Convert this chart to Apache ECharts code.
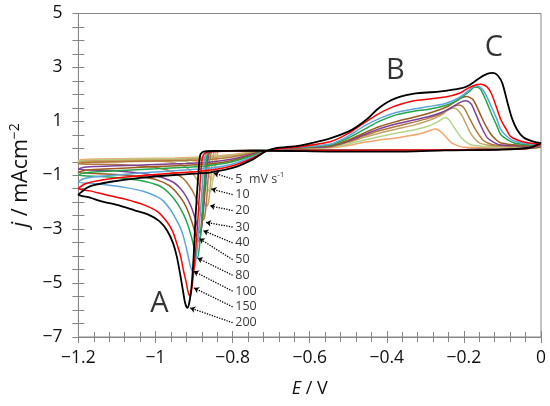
<!DOCTYPE html>
<html>
<head>
<meta charset="utf-8">
<script src="https://cdn.jsdelivr.net/npm/echarts@6/dist/echarts.min.js"></script>
<style>
html, body { margin: 0; padding: 0; background: #fff; }
#chart { width: 550px; height: 406px; }
</style>
</head>
<body>
<div id="chart"></div>
<script>
// scan rates (mV/s) and the colour used for each loop
var scanRates = ['5', '10', '20', '30', '40', '50', '80', '100', '150', '200'];
var lineColors = ['#F5A46C', '#B4D48C', '#C4A464', '#B0773A', '#7F3F98', '#9B5A1E', '#1FA64A', '#5DA5DA', '#FF0000', '#000000'];

// each loop: forward scan 0 -> -1.2 V, then reverse -1.2 -> 0 V  [E (V), j (mA/cm2)]
var cv5 = [[0,0.03],[-0.03,0],[-0.1,-0.04],[-0.3,-0.06],[-0.5,-0.07],[-0.7,-0.08],[-0.832,-0.09],[-0.838,-0.12],[-0.842,-0.4],[-0.846,-0.85],[-0.85,-1.1],[-0.855,-1.15],[-0.86,-1.05],[-0.867,-0.8],[-0.878,-0.6],[-0.895,-0.48],[-0.93,-0.42],[-1.0,-0.42],[-1.2,-0.45],
  [-1.19,-0.42],[-1.15,-0.4],[-1.05,-0.38],[-0.95,-0.36],[-0.88,-0.32],[-0.8,-0.23],[-0.75,-0.14],[-0.715,-0.08],[-0.69,-0.04],[-0.63,0],[-0.545,0.02],[-0.5,0.1],[-0.46,0.22],[-0.42,0.31],[-0.376,0.38],[-0.34,0.47],[-0.308,0.56],[-0.285,0.68],[-0.274,0.72],[-0.262,0.64],[-0.252,0.5],[-0.241,0.33],[-0.231,0.19],[-0.215,0.09],[-0.2,0.04],[-0.1,0.03],[0,0.03]];
var cv10 = [[0,0.04],[-0.03,0],[-0.1,-0.04],[-0.3,-0.06],[-0.5,-0.07],[-0.7,-0.08],[-0.836,-0.09],[-0.843,-0.13],[-0.847,-0.5],[-0.851,-1.1],[-0.855,-1.5],[-0.859,-1.62],[-0.864,-1.5],[-0.871,-1.15],[-0.882,-0.82],[-0.897,-0.62],[-0.92,-0.5],[-0.96,-0.45],[-1.05,-0.46],[-1.2,-0.48],
  [-1.19,-0.45],[-1.15,-0.43],[-1.05,-0.41],[-0.95,-0.39],[-0.88,-0.35],[-0.8,-0.25],[-0.75,-0.15],[-0.715,-0.08],[-0.69,-0.04],[-0.63,0],[-0.545,0.04],[-0.5,0.15],[-0.46,0.3],[-0.42,0.43],[-0.376,0.56],[-0.33,0.68],[-0.291,0.83],[-0.27,0.96],[-0.26,1.05],[-0.25,1.14],[-0.244,1.12],[-0.238,1.05],[-0.227,0.81],[-0.216,0.58],[-0.206,0.38],[-0.193,0.22],[-0.18,0.12],[-0.15,0.07],[-0.12,0.05],[0,0.04]];
var cv20 = [[0,0.05],[-0.03,0],[-0.1,-0.04],[-0.3,-0.06],[-0.5,-0.07],[-0.7,-0.08],[-0.84,-0.09],[-0.848,-0.14],[-0.853,-0.5],[-0.857,-1.2],[-0.861,-1.85],[-0.865,-2.12],[-0.869,-2.15],[-0.874,-1.95],[-0.882,-1.55],[-0.893,-1.15],[-0.908,-0.85],[-0.93,-0.63],[-0.96,-0.52],[-0.995,-0.48],[-1.1,-0.5],[-1.2,-0.52],
  [-1.19,-0.48],[-1.15,-0.46],[-1.05,-0.44],[-0.95,-0.42],[-0.88,-0.38],[-0.8,-0.27],[-0.75,-0.16],[-0.715,-0.08],[-0.69,-0.04],[-0.63,0],[-0.545,0.05],[-0.5,0.22],[-0.46,0.4],[-0.42,0.56],[-0.376,0.71],[-0.33,0.86],[-0.291,1.03],[-0.26,1.22],[-0.245,1.38],[-0.235,1.46],[-0.227,1.49],[-0.22,1.46],[-0.215,1.4],[-0.206,1.24],[-0.195,0.92],[-0.185,0.62],[-0.172,0.35],[-0.16,0.2],[-0.14,0.12],[-0.12,0.08],[0,0.05]];
var cv30 = [[0,0.06],[-0.03,0],[-0.1,-0.04],[-0.3,-0.06],[-0.5,-0.07],[-0.7,-0.08],[-0.845,-0.1],[-0.855,-0.15],[-0.86,-0.5],[-0.864,-1.2],[-0.868,-2.0],[-0.872,-2.5],[-0.876,-2.65],[-0.881,-2.5],[-0.888,-2.15],[-0.898,-1.75],[-0.912,-1.4],[-0.93,-1.1],[-0.955,-0.88],[-0.995,-0.72],[-1.05,-0.64],[-1.1,-0.6],[-1.2,-0.58],
  [-1.19,-0.54],[-1.16,-0.52],[-1.1,-0.5],[-1.0,-0.47],[-0.92,-0.45],[-0.86,-0.42],[-0.8,-0.32],[-0.75,-0.18],[-0.715,-0.09],[-0.69,-0.04],[-0.63,0.01],[-0.545,0.07],[-0.5,0.25],[-0.46,0.46],[-0.42,0.65],[-0.376,0.81],[-0.33,0.97],[-0.291,1.12],[-0.26,1.28],[-0.235,1.5],[-0.222,1.58],[-0.214,1.61],[-0.207,1.58],[-0.2,1.5],[-0.192,1.3],[-0.185,1.1],[-0.172,0.75],[-0.16,0.48],[-0.15,0.3],[-0.135,0.18],[-0.12,0.12],[-0.06,0.08],[0,0.06]];
var cv40 = [[0,0.07],[-0.03,0],[-0.1,-0.04],[-0.3,-0.06],[-0.5,-0.07],[-0.7,-0.08],[-0.85,-0.1],[-0.86,-0.16],[-0.865,-0.5],[-0.87,-1.3],[-0.875,-2.2],[-0.88,-2.9],[-0.884,-3.14],[-0.889,-3.0],[-0.897,-2.6],[-0.908,-2.15],[-0.92,-1.8],[-0.935,-1.5],[-0.955,-1.25],[-0.995,-1.04],[-1.04,-0.92],[-1.1,-0.84],[-1.2,-0.78],
  [-1.19,-0.72],[-1.16,-0.68],[-1.1,-0.65],[-1.0,-0.6],[-0.92,-0.56],[-0.86,-0.52],[-0.8,-0.4],[-0.75,-0.22],[-0.715,-0.1],[-0.69,-0.04],[-0.63,0.02],[-0.545,0.08],[-0.5,0.27],[-0.46,0.5],[-0.42,0.72],[-0.376,0.9],[-0.33,1.05],[-0.291,1.18],[-0.26,1.32],[-0.24,1.45],[-0.22,1.62],[-0.205,1.73],[-0.195,1.76],[-0.187,1.72],[-0.18,1.62],[-0.17,1.3],[-0.159,0.93],[-0.148,0.6],[-0.138,0.37],[-0.12,0.2],[-0.104,0.12],[-0.05,0.09],[0,0.07]];
var cv50 = [[0,0.08],[-0.03,0],[-0.1,-0.04],[-0.3,-0.06],[-0.5,-0.07],[-0.7,-0.08],[-0.85,-0.1],[-0.862,-0.17],[-0.867,-0.5],[-0.872,-1.3],[-0.877,-2.3],[-0.883,-3.2],[-0.888,-3.45],[-0.894,-3.3],[-0.903,-2.85],[-0.914,-2.4],[-0.927,-2.0],[-0.945,-1.65],[-0.965,-1.38],[-0.995,-1.18],[-1.04,-1.05],[-1.1,-0.97],[-1.2,-0.9],
  [-1.19,-0.84],[-1.16,-0.79],[-1.1,-0.75],[-1.0,-0.68],[-0.92,-0.63],[-0.86,-0.58],[-0.8,-0.45],[-0.75,-0.25],[-0.715,-0.1],[-0.69,-0.04],[-0.63,0.02],[-0.545,0.1],[-0.5,0.3],[-0.46,0.56],[-0.42,0.8],[-0.376,0.99],[-0.33,1.15],[-0.291,1.3],[-0.26,1.45],[-0.24,1.57],[-0.22,1.75],[-0.205,1.88],[-0.192,1.92],[-0.182,1.86],[-0.176,1.8],[-0.165,1.5],[-0.155,1.18],[-0.142,0.8],[-0.129,0.5],[-0.115,0.3],[-0.104,0.2],[-0.06,0.12],[0,0.08]];
var cv80 = [[0,0.1],[-0.03,0],[-0.1,-0.04],[-0.3,-0.06],[-0.5,-0.07],[-0.7,-0.08],[-0.85,-0.11],[-0.864,-0.18],[-0.869,-0.5],[-0.874,-1.4],[-0.879,-2.4],[-0.885,-3.5],[-0.891,-4.07],[-0.897,-3.85],[-0.906,-3.33],[-0.916,-2.85],[-0.927,-2.46],[-0.943,-2.05],[-0.961,-1.72],[-0.98,-1.48],[-0.995,-1.36],[-1.03,-1.22],[-1.08,-1.12],[-1.14,-1.05],[-1.2,-1.0],
  [-1.19,-0.93],[-1.16,-0.88],[-1.1,-0.83],[-1.0,-0.76],[-0.92,-0.7],[-0.87,-0.66],[-0.8,-0.5],[-0.75,-0.28],[-0.715,-0.11],[-0.69,-0.04],[-0.63,0.03],[-0.545,0.13],[-0.5,0.38],[-0.46,0.69],[-0.42,1.0],[-0.376,1.24],[-0.33,1.37],[-0.291,1.45],[-0.25,1.58],[-0.223,1.73],[-0.2,1.95],[-0.185,2.12],[-0.172,2.27],[-0.162,2.25],[-0.155,2.15],[-0.142,1.75],[-0.129,1.3],[-0.115,0.85],[-0.104,0.5],[-0.085,0.3],[-0.07,0.2],[-0.04,0.14],[0,0.1]];
var cv100 = [[0,0.12],[-0.03,0],[-0.1,-0.04],[-0.3,-0.06],[-0.5,-0.07],[-0.7,-0.08],[-0.85,-0.11],[-0.868,-0.18],[-0.874,-0.5],[-0.879,-1.5],[-0.885,-2.6],[-0.891,-3.6],[-0.897,-4.3],[-0.903,-4.56],[-0.909,-4.4],[-0.918,-3.82],[-0.926,-3.35],[-0.935,-2.96],[-0.948,-2.6],[-0.961,-2.28],[-0.98,-1.95],[-0.995,-1.8],[-1.03,-1.6],[-1.08,-1.45],[-1.13,-1.35],[-1.2,-1.25],
  [-1.19,-1.15],[-1.17,-1.08],[-1.126,-1.02],[-1.041,-0.92],[-0.96,-0.84],[-0.889,-0.77],[-0.85,-0.72],[-0.8,-0.58],[-0.75,-0.33],[-0.715,-0.12],[-0.69,-0.04],[-0.63,0.04],[-0.545,0.16],[-0.5,0.45],[-0.46,0.81],[-0.42,1.1],[-0.376,1.33],[-0.33,1.46],[-0.291,1.55],[-0.25,1.65],[-0.223,1.8],[-0.2,2.0],[-0.185,2.18],[-0.172,2.31],[-0.162,2.3],[-0.15,2.15],[-0.14,1.9],[-0.129,1.55],[-0.115,1.1],[-0.104,0.69],[-0.085,0.4],[-0.07,0.27],[-0.04,0.18],[0,0.12]];
var cv150 = [[0,0.15],[-0.03,0],[-0.1,-0.04],[-0.3,-0.06],[-0.5,-0.07],[-0.7,-0.08],[-0.85,-0.12],[-0.872,-0.18],[-0.879,-0.4],[-0.884,-1.2],[-0.889,-2.4],[-0.895,-3.6],[-0.901,-4.6],[-0.906,-5.2],[-0.91,-5.49],[-0.915,-5.35],[-0.92,-5.0],[-0.927,-4.56],[-0.935,-4.0],[-0.944,-3.57],[-0.955,-3.1],[-0.969,-2.75],[-0.995,-2.35],[-1.03,-2.1],[-1.08,-1.88],[-1.13,-1.72],[-1.17,-1.58],[-1.2,-1.5],
  [-1.19,-1.38],[-1.177,-1.29],[-1.15,-1.2],[-1.1,-1.1],[-1.04,-1.02],[-0.96,-0.93],[-0.89,-0.86],[-0.85,-0.8],[-0.8,-0.65],[-0.75,-0.38],[-0.715,-0.12],[-0.69,-0.03],[-0.63,0.05],[-0.545,0.25],[-0.5,0.55],[-0.46,0.93],[-0.425,1.25],[-0.392,1.49],[-0.36,1.65],[-0.325,1.77],[-0.248,1.9],[-0.21,2.05],[-0.189,2.23],[-0.17,2.35],[-0.155,2.38],[-0.14,2.28],[-0.129,2.04],[-0.115,1.5],[-0.104,1.06],[-0.09,0.7],[-0.079,0.44],[-0.05,0.25],[-0.02,0.18],[0,0.15]];
var cv200 = [[0,0.19],[-0.03,0.02],[-0.1,-0.05],[-0.25,-0.08],[-0.35,-0.12],[-0.55,-0.12],[-0.65,-0.1],[-0.75,-0.09],[-0.85,-0.1],[-0.875,-0.12],[-0.884,-0.25],[-0.888,-0.8],[-0.892,-1.6],[-0.896,-2.5],[-0.901,-4.0],[-0.907,-5.2],[-0.912,-5.7],[-0.917,-5.92],[-0.923,-5.75],[-0.928,-5.35],[-0.935,-4.75],[-0.945,-4.0],[-0.955,-3.5],[-0.97,-3.05],[-0.99,-2.7],[-1.02,-2.45],[-1.054,-2.3],[-1.1,-2.1],[-1.14,-1.97],[-1.17,-1.83],[-1.2,-1.72],
  [-1.19,-1.6],[-1.18,-1.48],[-1.16,-1.37],[-1.12,-1.25],[-1.04,-1.1],[-0.96,-1.0],[-0.89,-0.93],[-0.86,-0.9],[-0.8,-0.73],[-0.75,-0.43],[-0.715,-0.12],[-0.69,0],[-0.63,0.09],[-0.587,0.22],[-0.545,0.38],[-0.5,0.62],[-0.477,0.81],[-0.45,1.1],[-0.426,1.43],[-0.4,1.7],[-0.376,1.86],[-0.35,1.97],[-0.325,2.04],[-0.265,2.1],[-0.206,2.23],[-0.185,2.35],[-0.16,2.6],[-0.14,2.76],[-0.125,2.8],[-0.112,2.7],[-0.1,2.4],[-0.087,1.7],[-0.075,1.1],[-0.062,0.69],[-0.045,0.4],[-0.02,0.25],[0,0.19]];
var curves = [cv5, cv10, cv20, cv30, cv40, cv50, cv80, cv100, cv150, cv200];

// scan-rate call-outs: dotted arrow from the label to its loop
var arrowHeads = [[-0.849,-0.92],[-0.855,-1.51],[-0.859,-2.13],[-0.869,-2.75],[-0.876,-3.06],[-0.886,-3.35],[-0.891,-4.07],[-0.901,-4.56],[-0.9,-5.18],[-0.91,-5.92]];
var labelJ = [-1.14, -1.72, -2.31, -2.92, -3.51, -4.13, -4.71, -5.30, -5.88, -6.47];
var labelE = -0.793;
var tailE = -0.8;

// peak letters
var peakNames = ['A', 'B', 'C'];
var peakE = [-0.99, -0.378, -0.122];
var peakJ = [-5.76, 2.88, 3.72];

var FONT = 'Open Sans';
var AXIS_GREY = '#868686';

function minusFmt(v) {// axis values with a real minus sign
	var s = String(Math.round(v * 10) / 10);
	return s.replace('-', '\u2212');
}

var series = [];
curves.forEach(function(d, i) {
	series.push({
		name: scanRates[i],
		type: 'line',
		data: d,
		showSymbol: false,
		smooth: 0.25,
		lineStyle: { color: lineColors[i], width: i == 9 ? 1.8 : 1.5 },
		z: 2 + i
	});
});

// dotted arrows
series.push({
	type: 'lines',
	coordinateSystem: 'cartesian2d',
	symbol: ['none', 'arrow'],
	symbolSize: 5,
	lineStyle: { color: '#000', type: 'dotted', width: 1.3, opacity: 1 },
	data: arrowHeads.map(function(h, i) {
		return { coords: [[tailE, labelJ[i]], h] };
	}),
	z: 20
});

// scan-rate text
series.push({
	type: 'scatter',
	symbolSize: 0,
	data: labelJ.map(function(j, i) { return { name: scanRates[i], value: [labelE, j] }; }),
	label: {
		show: true,
		position: 'right',
		distance: 0,
		fontFamily: FONT,
		fontSize: 12.5,
		color: '#000',
		formatter: function(p) {
			return p.dataIndex == 0 ? p.name + '  mV s{sup|-1}' : p.name;
		},
		rich: { sup: { fontSize: 8, fontFamily: FONT, color: '#000', padding: [0, 0, 8, 0] } }
	},
	z: 21
});

// A, B, C
series.push({
	type: 'scatter',
	symbolSize: 0,
	data: peakNames.map(function(n, i) { return { name: n, value: [peakE[i], peakJ[i]] }; }),
	label: { show: true, position: 'inside', formatter: '{b}', fontFamily: FONT, fontSize: 29, color: '#000' },
	z: 22
});

var tickStyle = { color: AXIS_GREY, width: 1 };

var option = {
	animation: false,
	backgroundColor: '#fff',
	grid: { left: 70, right: 9, top: 13.5, bottom: 69, show: true, borderColor: AXIS_GREY, borderWidth: 1 },
	xAxis: [{
		type: 'value', min: -1.2, max: 0, interval: 0.2,
		position: 'bottom',
		axisLine: { show: true, onZero: false, lineStyle: tickStyle },
		axisTick: { show: true, length: 6, lineStyle: tickStyle },
		minorTick: { show: true, splitNumber: 5, length: 5, lineStyle: tickStyle },
		splitLine: { show: false },
		axisLabel: { formatter: minusFmt, fontFamily: FONT, fontSize: 17.5, color: '#111', margin: 12 },
		name: '{i|E} / V',
		nameLocation: 'middle',
		nameGap: 43,
		nameTextStyle: { fontFamily: FONT, fontSize: 18, color: '#111', rich: { i: { fontStyle: 'italic', fontFamily: FONT, fontSize: 18, color: '#111' } } }
	}, {
		type: 'value', min: -1.2, max: 0, interval: 0.2,
		position: 'bottom',
		axisLine: { show: false, onZero: false },
		axisTick: { show: true, inside: true, length: 6, lineStyle: tickStyle },
		minorTick: { show: true, splitNumber: 5, length: 5, lineStyle: tickStyle },
		splitLine: { show: false },
		axisLabel: { show: false }
	}],
	yAxis: [{
		type: 'value', min: -7, max: 5, interval: 2,
		position: 'left',
		axisLine: { show: true, onZero: false, lineStyle: tickStyle },
		axisTick: { show: true, length: 6, lineStyle: tickStyle },
		minorTick: { show: true, splitNumber: 4, length: 6, lineStyle: tickStyle },
		splitLine: { show: false },
		axisLabel: { formatter: minusFmt, fontFamily: FONT, fontSize: 17.5, color: '#111', margin: 16 },
		name: '{i|j} / mAcm{sup|\u22122}',
		nameLocation: 'middle',
		nameGap: 41,
		nameRotate: 90,
		nameTextStyle: {
			fontFamily: FONT, fontSize: 21.5, color: '#111',
			rich: {
				i: { fontStyle: 'italic', fontFamily: FONT, fontSize: 21.5, color: '#111' },
				sup: { fontFamily: FONT, fontSize: 14, color: '#111', padding: [0, 0, 11, 0] }
			}
		}
	}, {
		type: 'value', min: -7, max: 5, interval: 2,
		position: 'left',
		axisLine: { show: false, onZero: false },
		axisTick: { show: true, inside: true, length: 6, lineStyle: tickStyle },
		minorTick: { show: true, splitNumber: 4, length: 6, lineStyle: tickStyle },
		splitLine: { show: false },
		axisLabel: { show: false }
	}],
	series: series
};

var chart = echarts.init(document.getElementById('chart'));
chart.setOption(option);
</script>
</body>
</html>
